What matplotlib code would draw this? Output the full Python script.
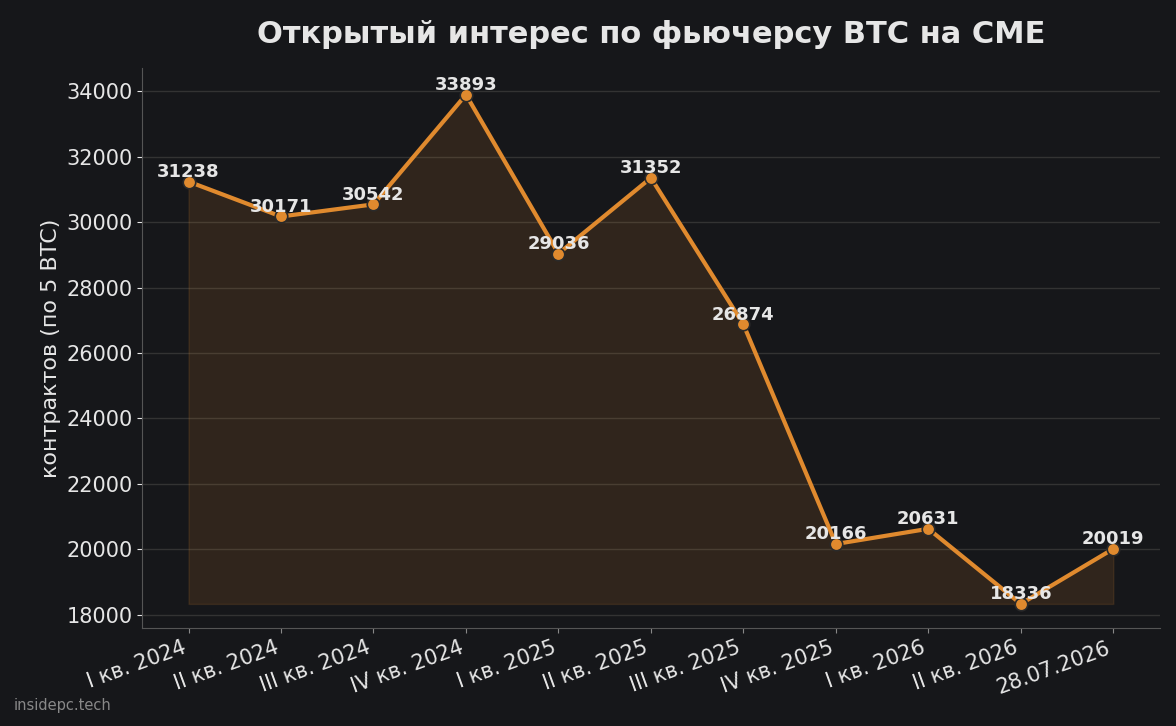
import matplotlib.pyplot as plt

quarters = ['I кв. 2024', 'II кв. 2024', 'III кв. 2024', 'IV кв. 2024', 'I кв. 2025',
            'II кв. 2025', 'III кв. 2025', 'IV кв. 2025', 'I кв. 2026', 'II кв. 2026', '28.07.2026']
contracts = [31238, 30171, 30542, 33893, 29036, 31352, 26874, 20166, 20631, 18336, 20019]

bg = '#16171a'
orange = '#e08a2e'
txt = '#e6e6e6'

plt.rcParams['font.family'] = ['DejaVu Sans']
fig, ax = plt.subplots(figsize=(11.76, 7.26), dpi=100)
fig.patch.set_facecolor(bg)
ax.set_facecolor(bg)
fig.subplots_adjust(left=0.121, right=0.986, top=0.906, bottom=0.135)

x = list(range(len(quarters)))
ax.fill_between(x, min(contracts), contracts, color=orange, alpha=0.13, zorder=1)
ax.plot(x, contracts, color=orange, lw=3, marker='o', ms=9,
        markeredgecolor='#2a2a2a', markeredgewidth=1.2, zorder=3)
for xi, v in zip(x, contracts):
    ax.text(xi, v + 20, str(v), ha='center', va='bottom', color=txt,
            fontsize=13, fontweight='bold', zorder=4)

ax.set_ylim(17600, 34700)
ax.set_xlim(-0.5, 10.5)
ax.set_yticks(range(18000, 34001, 2000))
ax.set_xticks(x)
ax.set_xticklabels(quarters, rotation=20, ha='right', fontsize=15, color=txt)
ax.tick_params(axis='y', labelsize=15, colors=txt)
ax.tick_params(axis='x', colors='#888888')
for t in ax.get_xticklabels():
    t.set_color(txt)
ax.grid(axis='y', color='#333333', lw=1)
ax.set_axisbelow(True)
for s in ['top', 'right']:
    ax.spines[s].set_visible(False)
for s in ['left', 'bottom']:
    ax.spines[s].set_color('#555555')
ax.set_ylabel('контрактов (по 5 BTC)', fontsize=16, color=txt)
ax.set_title('Открытый интерес по фьючерсу BTC на CME', fontsize=22,
             fontweight='bold', color=txt, pad=18)
fig.text(0.012, 0.022, 'insidepc.tech', color='#888888', fontsize=10.5)

fig.savefig('out.png', facecolor=bg)
